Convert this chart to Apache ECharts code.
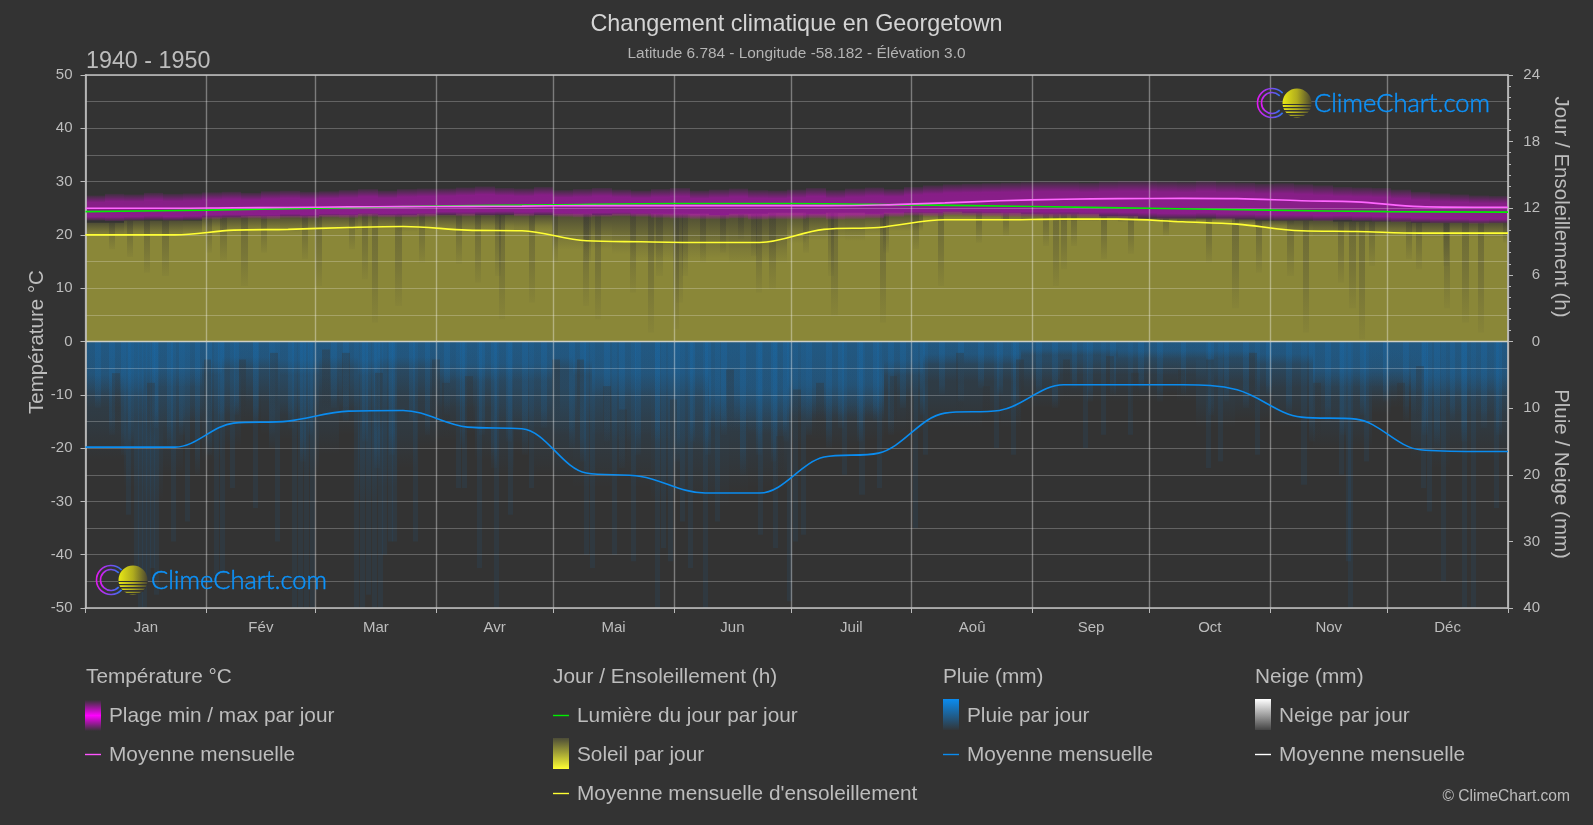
<!DOCTYPE html>
<html>
<head>
<meta charset="utf-8">
<style>html,body{margin:0;padding:0;background:#333333}#c{width:1593px;height:825px}</style>
<script src="https://cdn.jsdelivr.net/npm/echarts@6/dist/echarts.min.js"></script>
</head>
<body>
<div id="c"></div>
<script>
const monthNames = ['Jan','Fév','Mar','Avr','Mai','Jun','Juil','Aoû','Sep','Oct','Nov','Déc'];
const monthEdges = [0,31,59,90,120,151,181,212,243,273,304,334,365];
const monthMids = [15.5,45,74.5,105,135.5,166,196.5,227.5,258,288.5,319,349.5];

// Monthly curves: read at the day positions in curveDays
const curveDays = [0,8,23,38,52,67.5,81.5,98,112,128.5,142.5,159,173,189.5,203.5,220.5,234.5,251,265,281.5,295.5,312,326,342.5,356.5,365];
const tempMean = [25,25,25,25.1,25.15,25.25,25.3,25.35,25.4,25.5,25.5,25.5,25.5,25.5,25.6,26,26.4,26.7,26.8,26.85,26.8,26.4,26.2,25.3,25.2,25.2];
const sunMean = [9.6,9.6,9.6,10.03,10.1,10.27,10.36,10.03,9.97,9.07,8.98,8.92,8.92,10.1,10.27,10.96,10.96,11.02,11.02,10.78,10.57,9.97,9.91,9.76,9.76,9.76];
const rainMean = [15.85,15.85,15.85,12.25,11.95,10.45,10.35,12.85,13.1,19.75,20.25,22.75,22.75,17.35,16.75,10.75,10.35,6.5,6.5,6.5,7.25,11.35,11.65,16.25,16.5,16.5];
const daylightDays = [0,31,59,90,120,151,181,212,243,273,304,334,365];
const daylight = [11.7,11.83,12.0,12.2,12.32,12.43,12.43,12.3,12.16,12.0,11.83,11.7,11.65];

// Five-day envelopes
const tempTopEdge = [27.4,27.7,27.6,27.9,27.7,27.8, 28.0,28.1,27.9,28.2,28.3,28.1, 28.2,28.4,28.6,28.3,28.6,28.7, 28.7,28.9,29.1,28.8,28.7,29.0, 28.4,28.6,28.8,28.5,28.3,28.6, 28.8,28.3,28.5,28.7,28.4,28.3, 28.5,28.8,28.4,28.7,28.9,28.6, 29.0,29.3,29.5,29.6,29.7,29.8, 29.9,30.0,29.9,29.8,30.0,30.1, 30.1,30.0,29.9,30.1,29.9,29.8, 29.6,29.7,29.5,29.3,29.0,28.9, 28.8,28.5,28.1,27.8,27.6,27.4,27.3];
const tempLowEdge = [23.2,23.1,23.2,23.3,23.2,23.3, 23.5,23.6,23.6,23.5,23.7,23.6, 23.8,23.7,23.9,23.8,23.8,23.9, 24.1,24.0,24.1,24.2,24.0,24.1, 23.9,23.8,23.9,24.0,23.9,23.7, 23.6,23.5,23.5,23.6,23.4,23.5, 23.5,23.6,23.4,23.5,23.6,23.9, 24.1,24.0,24.2,24.1,24.0,23.9, 23.9,23.8,23.9,23.8,23.8,23.7, 23.6,23.5,23.5,23.6,23.4,23.4, 23.3,23.2,23.2,23.1,23.2,23.1, 23.0,22.9,22.8,22.7,22.7,22.6,22.7];
const sunCap = [10.7,10.7,10.9,10.9,10.9,10.9, 11.2,11.2,11.3,11.3,11.3,11.3, 11.4,11.4,11.5,11.4,11.4,11.5, 11.4,11.5,11.4,11.4,11.5,11.4, 11.5,11.5,11.4,11.5,11.5,11.5, 11.5,11.5,11.4,11.5,11.5,11.6, 11.6,11.5,11.6,11.6,11.5,11.6, 11.6,11.6,11.7,11.6,11.6,11.6, 11.5,11.5,11.5,11.5,11.3,11.3, 11.1,11.1,11.1,11.1,11.1,11.0, 10.9,10.9,10.9,10.9,10.8,10.8, 10.8,10.8,10.7,10.7,10.7,10.7,10.7];
const sunBody = [9.8,9.8,9.9,9.8,9.8,9.9, 10.3,10.2,10.3,10.3,10.2,10.3, 10.4,10.4,10.5,10.4,10.3,10.4, 10.4,10.3,10.4,10.4,10.3,10.4, 9.2,9.2,9.2,8.9,8.6,8.6, 8.5,8.6,8.6,8.3,8.3,8.3, 9.6,9.8,9.9,9.8,10.2,10.4, 10.4,11.1,11.2,11.2,11.2,11.1, 11.0,11,11,11,11,10.9, 10.9,10.9,10.8,10.9,10.9,10.7, 10.4,10.4,9.9,9.8,9.8,9.8, 9.8,9.8,9.7,9.7,9.8,9.7,9.7];
const rainFaint = [18,18,22,24,20,16, 18,16,13,14,15,20, 17,14,24,22,19,16, 15,14,18,20,17,20, 21,22,22,21,22,24, 24,24,25,23,22,22, 16,15,16,16,15,14, 14,13,13,13,12,13, 10,10,9,9,9,9, 9,8,9,13,13,12, 12,13,13,16,16,16, 11,10,18,19,18,18,18];
const rainMid = [10,10,12,13,13,12, 11,11,9,9,11,11, 9,10,10,10,9,9, 10,10,10,12,13,13, 14,13,14,15,14,15, 16,16,13,13,14,14, 11,11,11,11,11,8, 8,6,6,6,6,6, 6,6,5,5,5,5, 5,5,5,6,6,6, 7,7,7,9,9,9, 9,9,11,11,11,11,11];
const rainCore = [5,5,5,4,4,4, 3,2.5,2.5,2.5,3,3, 2.5,2.5,3,2.5,2.5,2.5, 3.5,3.5,3.5,3.5,3.5,3.5, 2.5,3,5,5,5,5, 5,5,8,8,8,8, 7,7,7,7,7,3, 3,2,2,2,2,2, 1.2,1.2,1.2,1.2,1.2,1.5, 1.5,1.5,1.5,1.5,1.5,1.5, 2,2,2,4,4,4, 4,4,5,5,5,5,5];

// Individual stripes
const rainDeepDays = [10.5,12.5,13.5,14.5,15.5,16.5,17.5,22,25.6,33,34.5,37,43,48.7,53,54.5,56,57.5,69,70.5,72,73.5,75,76,77.5,78.7,84,95,96.5,100.4,104.7,108.5,113.7,128,129.4,135,140,146,147.7,149.5,152.5,154.6,158.5,161.5,172.5,176.4,180,181.5,183.7,194,198.6,203,212.3,215,233,237.5,256,260.6,267.4,287.5,290.5,300,312,321.7,323.4,324,328,342.6,344.3,347.8,353.3,355.4,361.4];
const rainDeepDepth = [26,38,40,40,36,34,38,30,27,35,35,22,25,30,40,40,40,40,40,40,38,40,40,32,30,30,30,22,22,34,40,26,22,32,34,32,33,40,31,33,27,34,40,27,29,31,39,30,29,20,23,22,28,17,16,17,16,14,14,19,18,17,21.5,20,33,40,18,22,25.5,36,40,40,25];
const rainStripeDays = [2.5,6,9,11,17,21,24,28,31,34,38,43,47,52,55,57,63,66,71,74,78,83,87,92,96,101,104,108,112,117,124,127,133,137,141,146,151,155,159,163,168,172,176,179,185,190,193,198,202,206,209,214,219,224,229,234,238,244,248,253,257,263,270,275,281,288,292,297,303,308,314,318,322,327,333,338,343,346,350,353,358,362];
const rainStripeDepth = [10,14,17,15,13,16,14,20,17,13,11,12,16,13,18,14,10,12,15,19,17,12,14,11,16,14,19,15,17,13,16,18,15,19,17,16,18,15,17,14,20,17,18,15,14,16,13,15,12,14,10,11,8,9,7,8,10,8,10,7,9,8,7,9,8,11,9,10,8,11,15,12,14,11,9,12,14,16,12,15,13,14];
const rainGapDays = [6.8,15.8,30.3,39.3,47.4,60.7,65.8,74.4,88.9,91.5,97.4,119.7,126,132.8,137,149.9,164.4,177.3,181.5,187.5,206.3,210.6,223.4,230.2,238.8,250.7,261.9,268.3,280.2,287.5,298.6,314.9,336.6,341.4];
const rainGapStart = [4.75,6.2,2.7,2.7,1.7,1.2,1.7,4.7,2.7,6.2,5.2,2.7,2.7,6.7,10.2,8.7,4.2,14.2,7.2,6.2,5.2,8.2,1.7,6.7,2.7,2.7,2.2,4.7,4.2,2.7,1.7,6.2,6.2,3.7];
const sunDipDays = [6,10.7,15,19.7,30.8,34.6,40,45,55.5,59,67.5,71,73.5,79.5,85.5,95,100,105,106,113.7,119.7,127.7,128,130.7,139.7,144.3,146.5,150.8,151.6,153,157.6,162.7,167.4,170.8,172,175.5,184,190.5,191.4,203.8,204.6,212.3,218.7,228.5,235.4,245.6,248.2,250.3,252.9,260.6,267.4,276.4,287.5,294.3,300.3,308.4,312.3,321.3,324.3,326.8,329.4,338.8,341.3,348.2,348.6,353.3,357.2,363.6];
const sunDipLow = [8.3,7.6,6.2,5.9,8,7.3,5,8,7.4,5,8.3,5.6,1.7,3.2,7.1,7,5.3,5.9,2,3.5,7.1,3.2,7.1,2,4.4,0.8,5.9,1.1,3.5,5.9,7.1,8,9.2,7.7,4.4,4.7,8,5.9,2.3,1.7,8,8.3,5,8.9,9.5,8.6,5,6.5,8.6,7.4,7.9,9.5,7.1,3,6.2,5.9,0.8,5.3,3,0.2,6.8,7.4,6.5,6.8,3,1.7,0.8,8.9];

const FONT = '"Liberation Sans", Arial, sans-serif';
const TXT = '#bdbdbd';
const BLUE = '#0a8cf0';
const LEG = 20.8;

const binRows = (vals, low) => vals.map((v,i)=>[i*5,(i+1)*5,low?low[i]:0,v]);
const stripeRows = (days, depth, w) => days.map((d,i)=>[d,Math.min(d+w,365),0,depth[i]]);
const fade = (rgb, stops) => ({type:'linear',x:0,y:0,x2:0,y2:1,
  colorStops:stops.map(s=>({offset:s[0],color:'rgba('+rgb+','+s[1]+')'}))});

function band(name, yAxisIndex, rows, fill, z){
  return {
    type:'custom', name, xAxisIndex:0, yAxisIndex, silent:true, z:z||2, clip:true,
    encode:{x:[0,1],y:[2,3]}, data:rows,
    renderItem:(p,api)=>{
      const a=api.coord([api.value(0),api.value(2)]);
      const b=api.coord([api.value(1),api.value(3)]);
      const x0=Math.round(a[0]), x1=Math.round(b[0]);
      const y0=Math.min(a[1],b[1]), y1=Math.max(a[1],b[1]);
      return {type:'rect',shape:{x:x0,y:y0,width:Math.max(1,x1-x0),height:y1-y0},
        style:{fill: typeof fill==='function' ? fill(p.dataIndex) : fill}};
    }
  };
}
function curve(name, yAxisIndex, days, vals, color, z){
  return {type:'line',name,xAxisIndex:0,yAxisIndex,data:days.map((d,i)=>[d,vals[i]]),
    showSymbol:false,symbol:'none',smooth:0.35,silent:true,z:z||10,
    lineStyle:{color,width:1.6}};
}
const OLIVE='138,135,56';
const sunFill = i => { const f=Math.min(0.5,1-sunBody[i]/sunCap[i]);
  return fade(OLIVE,[[0,0.3],[f,0.85],[Math.min(0.7,f*1.4),1],[1,1]]); };

// y axis indices: 0 temperature, 1 hours, 2 rain
const series = [
  band('Soleil par jour',1,binRows(sunCap),sunFill),
  band('Soleil stripes',1,sunDipDays.map((d,i)=>[d,d+1.6,sunDipLow[i],sunCap[Math.min(72,Math.floor(d/5))]]),
    fade('51,51,51',[[0,0.34],[0.55,0.2],[1,0.04]])),
  band('Plage min / max par jour',0,binRows(tempTopEdge,tempLowEdge.map(v=>v-0.5)),
    fade('255,0,255',[[0,0.06],[0.28,0.41],[0.85,0.43],[1,0.08]]),3),
  band('Pluie deep',2,stripeRows(rainDeepDays,rainDeepDepth,1.3),'rgba(10,140,240,0.07)'),
  band('Pluie faint',2,binRows(rainFaint),fade('10,140,240',[[0,0.13],[0.6,0.09],[1,0]])),
  band('Pluie stripes',2,stripeRows(rainStripeDays,rainStripeDepth,1.5),fade('10,140,240',[[0,0.12],[0.8,0.1],[1,0.02]])),
  band('Pluie mid',2,binRows(rainMid),fade('10,140,240',[[0,0.17],[0.5,0.14],[1,0]])),
  band('Pluie par jour',2,binRows(rainCore.map(v=>v*1.7)),fade('10,140,240',[[0,0.2],[0.55,0.18],[1,0]])),
  band('Pluie gaps',2,rainGapDays.map((d,i)=>[d,d+2,rainGapStart[i],rainGapStart[i]+9]),fade('51,51,51',[[0,0.34],[0.6,0.25],[1,0]])),
  curve('Lumière du jour par jour',1,daylightDays,daylight,'#00ee00'),
  curve('Moyenne mensuelle',0,curveDays,tempMean,'#ff66ff'),
  curve("Moyenne mensuelle d'ensoleillement",1,curveDays,sunMean,'#ffff33'),
  curve('Moyenne mensuelle pluie',2,curveDays,rainMean,BLUE),
  {type:'line',name:'zero',xAxisIndex:0,yAxisIndex:0,data:[[0,0],[365,0]],symbol:'none',silent:true,z:9,
    lineStyle:{color:'#cfcfc4',width:1.6}}
];

// Text and chrome drawn by graphic elements
const g = [];
const text = (s,x,y,size,extra)=>g.push(Object.assign({type:'text',x,y,silent:true,z:20,
  style:Object.assign({text:s,fill:TXT,font:size+'px '+FONT,align:'left',verticalAlign:'middle'},extra&&extra.style)},extra&&extra.el));
text('1940 - 1950',86,62,23.3);
text('Température °C',37.5,342,20.5,{style:{align:'center'},el:{rotation:Math.PI/2}});
text('Jour / Ensoleillement (h)',1561,207,20.5,{style:{align:'center'},el:{rotation:-Math.PI/2}});
text('Pluie / Neige (mm)',1561,474,20.5,{style:{align:'center'},el:{rotation:-Math.PI/2}});

const vGrad=(stops)=>({type:'linear',x:0,y:0,x2:0,y2:1,colorStops:stops.map((c)=>({offset:c[0],color:c[1]}))});
const swatch=(x,y,stops)=>g.push({type:'rect',silent:true,z:20,shape:{x,y,width:16,height:31},style:{fill:vGrad(stops)}});
const dash=(x,y,color)=>g.push({type:'line',silent:true,z:20,shape:{x1:x,y1:Math.floor(y)+0.5,x2:x+16,y2:Math.floor(y)+0.5},style:{stroke:color,lineWidth:1.4}});

const rowY=[677,716.5,755,794];
const col=[85,553,943,1255];
['Température °C','Jour / Ensoleillement (h)','Pluie (mm)','Neige (mm)'].forEach((s,i)=>text(s,col[i]+(i==0?1:0),rowY[0],LEG));
swatch(col[0],700,[[0,'rgba(255,0,255,0)'],[0.5,'#ff00ff'],[1,'rgba(255,0,255,0)']]);
text('Plage min / max par jour',col[0]+24,rowY[1],LEG);
dash(col[0],rowY[2]-1,'#ff55ff'); text('Moyenne mensuelle',col[0]+24,rowY[2],LEG);
dash(col[1],rowY[1]-1,'#00ee00'); text('Lumière du jour par jour',col[1]+24,rowY[1],LEG);
swatch(col[1],738,[[0,'#4c4c38'],[1,'#ffff33']]);
text('Soleil par jour',col[1]+24,rowY[2],LEG);
dash(col[1],rowY[3]-1,'#ffff33'); text("Moyenne mensuelle d'ensoleillement",col[1]+24,rowY[3],LEG);
swatch(col[2],699,[[0,'#0a8cf0'],[1,'rgba(10,140,240,0.03)']]);
text('Pluie par jour',col[2]+24,rowY[1],LEG);
dash(col[2],rowY[2]-1,BLUE); text('Moyenne mensuelle',col[2]+24,rowY[2],LEG);
swatch(col[3],699,[[0,'#ffffff'],[1,'#444444']]);
text('Neige par jour',col[3]+24,rowY[1],LEG);
dash(col[3],rowY[2]-1,'#ffffff'); text('Moyenne mensuelle',col[3]+24,rowY[2],LEG);
text('© ClimeChart.com',1570,797,15.6,{style:{align:'right'}});

function logo(rx,sx,cy,tx){
  const ringFill={type:'linear',x:0,y:0,x2:1,y2:0,colorStops:[{offset:0,color:'#f010f0'},{offset:1,color:'#1e7cf0'}]};
  [14.5,10.5].forEach(r=>g.push({type:'arc',silent:true,z:21,shape:{cx:rx,cy,r,startAngle:0.75,endAngle:Math.PI*2-0.75},
    style:{stroke:ringFill,lineWidth:1.6,fill:null}}));
  g.push({type:'circle',silent:true,z:22,shape:{cx:sx,cy,r:14.5},
    style:{fill:{type:'linear',x:0,y:0,x2:1,y2:0,colorStops:[{offset:0,color:'#e8e815'},{offset:0.5,color:'#b0ac1e'},{offset:1,color:'#4a4630'}]}}});
  [[1,1],[4,1.2],[7,1.5],[10,1.8],[12.8,1.3]].forEach(([d,h])=>{
    const w=Math.sqrt(Math.max(0,14.8*14.8-d*d));
    g.push({type:'rect',silent:true,z:23,shape:{x:sx-w,y:cy+d,width:2*w,height:h},style:{fill:'#333333'}});
  });
  g.push({type:'text',x:tx,y:cy+1,silent:true,z:22,style:{text:'ClimeChart.com',fill:'#0c92fa',stroke:'#0c92fa',lineWidth:0.5,font:'300 25.5px Lato, '+FONT,align:'left',verticalAlign:'middle'}});
}
logo(1272,1297,103,1314);
logo(111,133,580,151);

const chart = echarts.init(document.getElementById('c'),null,{renderer:'canvas'});
chart.setOption({
  backgroundColor:'#333333',
  animation:false,
  title:{text:'Changement climatique en Georgetown',subtext:'Latitude 6.784 - Longitude -58.182 - Élévation 3.0',
    left:'center',top:8,itemGap:10,
    textStyle:{color:'#d4d4d4',fontFamily:FONT,fontWeight:'normal',fontSize:23.4},
    subtextStyle:{color:'#b4b4b4',fontFamily:FONT,fontSize:15.4}},
  grid:{left:85.5,right:85,top:75,bottom:217,show:false},
  xAxis:[{
    type:'value',min:0,max:365,z:5,
    axisLine:{show:true,onZero:false,lineStyle:{color:'#c4c4c4',width:1.6}},
    axisTick:{show:true,length:5,customValues:monthEdges,lineStyle:{color:'#bbbbbb',width:1}},
    axisLabel:{color:TXT,fontFamily:FONT,fontSize:15,margin:12,customValues:monthMids,
      formatter:v=>monthNames[monthMids.indexOf(v)]||''},
    splitLine:{show:true,lineStyle:{color:'rgba(255,255,255,0.36)',width:1.4}}
  },{
    type:'value',min:0,max:365,position:'top',z:5,
    axisLine:{show:true,onZero:false,lineStyle:{color:'#c4c4c4',width:1.6}},
    axisTick:{show:false},axisLabel:{show:false},splitLine:{show:false}
  }],
  yAxis:[{
    type:'value',min:-50,max:50,interval:10,position:'left',z:5,
    axisLine:{show:true,onZero:false,lineStyle:{color:'#c4c4c4',width:1.6}},
    axisTick:{show:true,length:5,lineStyle:{color:'#bbbbbb'}},
    axisLabel:{color:TXT,fontFamily:FONT,fontSize:15,margin:13},
    splitLine:{show:true,lineStyle:{color:'rgba(255,255,255,0.24)',width:1.2}},
    minorTick:{show:false,splitNumber:2},
    minorSplitLine:{show:true,lineStyle:{color:'rgba(255,255,255,0.24)',width:1.2}}
  },{
    type:'value',min:-24,max:24,interval:6,position:'right',z:5,
    axisLine:{show:true,onZero:false,lineStyle:{color:'#c4c4c4',width:1.6}},
    axisTick:{show:true,length:3,customValues:[0,1,2,3,4,5,6,7,8,9,10,11,12,13,14,15,16,17,18,19,20,21,22,23,24],lineStyle:{color:'#bbbbbb'}},
    axisLabel:{color:TXT,fontFamily:FONT,fontSize:15,margin:32,align:'right',customValues:[0,6,12,18,24]},
    splitLine:{show:false}
  },{
    type:'value',min:-40,max:40,interval:10,inverse:true,position:'right',z:5,
    axisLine:{show:false,onZero:false},
    axisTick:{show:true,length:5,lineStyle:{color:'#bbbbbb'}},
    axisLabel:{color:TXT,fontFamily:FONT,fontSize:15,margin:32,align:'right',customValues:[10,20,30,40]},
    splitLine:{show:false}
  }],
  series,
  graphic:{elements:g}
});
</script>
</body>
</html>
